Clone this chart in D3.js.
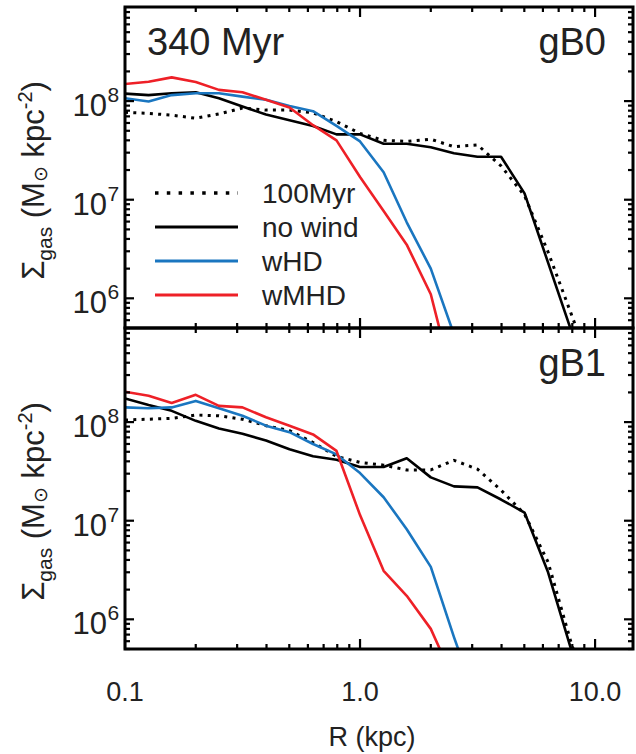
<!DOCTYPE html>
<html>
<head>
<meta charset="utf-8">
<script src="https://cdn.jsdelivr.net/npm/d3@7/dist/d3.min.js"></script>
<style>
  html, body { margin: 0; padding: 0; background: #fff; }
  svg { display: block; }
  text { font-family: "Liberation Sans", Arial, Helvetica, sans-serif; fill: #222; }
</style>
</head>
<body>
<svg id="chart" width="636" height="754"></svg>
<script>
// Radial bins (kpc), 0.1 dex apart
const radius = [0.1, 0.126, 0.158, 0.2, 0.251, 0.316, 0.398, 0.501, 0.631, 0.794,
                1.0, 1.26, 1.58, 2.0, 2.51, 3.16, 3.98, 5.01, 6.31, 7.94, 10.0];

// Gas surface density profiles, Msun kpc^-2 — model gB0
const gB0_100Myr = [7.7e7, 7.5e7, 7.2e7, 6.7e7, 7.4e7, 8.5e7, 8.1e7, 8.1e7, 7.6e7, 6.2e7,
                    4.7e7, 4.0e7, 3.9e7, 4.1e7, 3.45e7, 3.6e7, 2.2e7, 1.1e7, 2.95e6, 6.8e5, 1.55e5];
const gB0_noWind = [1.19e8, 1.15e8, 1.2e8, 1.23e8, 1.07e8, 8.8e7, 7.3e7, 6.4e7, 5.6e7, 4.6e7,
                    4.6e7, 3.7e7, 3.7e7, 3.4e7, 2.96e7, 2.73e7, 2.73e7, 1.16e7, 2.3e6, 4.6e5];
const gB0_wHD     = [1.07e8, 9.9e7, 1.15e8, 1.2e8, 1.2e8, 1.11e8, 1.03e8, 8.9e7, 7.9e7, 5.6e7,
                    3.9e7, 1.9e7, 5.9e6, 2.0e6, 4.3e5];
const gB0_wMHD    = [1.49e8, 1.57e8, 1.74e8, 1.56e8, 1.30e8, 1.23e8, 1.03e8, 8.6e7, 5.7e7, 4.0e7,
                    1.7e7, 7.7e6, 3.5e6, 1.1e6, 1.3e5];

// Gas surface density profiles, Msun kpc^-2 — model gB1
const gB1_100Myr = [1.05e8, 1.07e8, 1.09e8, 1.18e8, 1.16e8, 1.07e8, 9.2e7, 8.2e7, 6.2e7, 4.5e7,
                    3.9e7, 3.66e7, 3.27e7, 3.27e7, 4.1e7, 3.33e7, 2.04e7, 1.17e7, 3.8e6, 5.6e5, 1.2e5];
const gB1_noWind = [1.74e8, 1.49e8, 1.30e8, 1.03e8, 8.6e7, 7.6e7, 6.5e7, 5.3e7, 4.5e7, 4.15e7,
                    3.5e7, 3.5e7, 4.3e7, 2.75e7, 2.23e7, 2.18e7, 1.64e7, 1.21e7, 3.0e6, 4.8e5];
const gB1_wHD     = [1.41e8, 1.38e8, 1.41e8, 1.64e8, 1.38e8, 1.16e8, 9.2e7, 7.9e7, 6.0e7, 4.7e7,
                    3.04e7, 1.73e7, 8.2e6, 3.4e6, 6.6e5, 1.4e5];
const gB1_wMHD    = [2.03e8, 1.85e8, 1.56e8, 1.89e8, 1.46e8, 1.41e8, 1.12e8, 9.2e7, 7.5e7, 5.1e7,
                    1.14e7, 3.1e6, 1.73e6, 8.0e5, 2.4e5];

const seriesNames = ["100Myr", "no wind", "wHD", "wMHD"];
const seriesColors = ["#000000", "#000000", "#1a76c0", "#ee2027"];
const panelNames = ["gB0", "gB1"];
const timeLabel = "340 Myr";

const xMajor = [0.1, 1, 10];
const xMajorLabels = ["0.1", "1.0", "10.0"];
const xMinor = [0.2, 0.3, 0.4, 0.5, 0.6, 0.7, 0.8, 0.9, 2, 3, 4, 5, 6, 7, 8, 9];
const yMajor = [1e6, 1e7, 1e8];
const yMajorExp = ["6", "7", "8"];
const yMinor = [5e5, 6e5, 7e5, 8e5, 9e5, 2e6, 3e6, 4e6, 5e6, 6e6, 7e6, 8e6, 9e6,
                2e7, 3e7, 4e7, 5e7, 6e7, 7e7, 8e7, 9e7, 2e8, 3e8, 4e8, 5e8, 6e8, 7e8, 8e8];

const panelData = [
  [gB0_100Myr, gB0_noWind, gB0_wHD, gB0_wMHD],
  [gB1_100Myr, gB1_noWind, gB1_wHD, gB1_wMHD]
];

const svg = d3.select("#chart");
const left = 125, right = 633;
const panels = [{ top: 7, bottom: 328 }, { top: 328, bottom: 649 }];

const x = d3.scaleLog().domain([0.1, 14.5]).range([left, right]);

panels.forEach((p, pi) => {
  const y = d3.scaleLog().domain([5e5, 9e8]).range([p.bottom, p.top]);
  const g = svg.append("g");

  const clipId = "clip" + pi;
  svg.append("clipPath").attr("id", clipId)
    .append("rect").attr("x", left).attr("y", p.top)
    .attr("width", right - left).attr("height", p.bottom - p.top);

  const line = d3.line()
    .defined(d => d[1] != null)
    .x(d => x(d[0]))
    .y(d => y(d[1]));

  const lines = g.append("g").attr("clip-path", `url(#${clipId})`);
  panelData[pi].forEach((vals, si) => {
    const pts = vals.map((v, i) => [radius[i], v]);
    const path = lines.append("path")
      .attr("d", line(pts))
      .attr("fill", "none")
      .attr("stroke", seriesColors[si])
      .attr("stroke-width", 2.6)
      .attr("stroke-linejoin", "round");
    if (si === 0) path.attr("stroke-width", 3).attr("stroke-dasharray", "3,5.3");
  });

  // ticks on all four sides, pointing inward
  const tk = g.append("g").attr("stroke", "#000").attr("stroke-width", 2.2);
  xMajor.concat(xMinor).forEach(v => {
    const len = xMajor.includes(v) ? 10 : 5;
    const xv = x(v);
    tk.append("line").attr("x1", xv).attr("x2", xv).attr("y1", p.bottom).attr("y2", p.bottom - len);
    tk.append("line").attr("x1", xv).attr("x2", xv).attr("y1", p.top).attr("y2", p.top + len);
  });
  yMajor.concat(yMinor).forEach(v => {
    const len = yMajor.includes(v) ? 9 : 5;
    const yv = y(v);
    tk.append("line").attr("x1", left).attr("x2", left + len).attr("y1", yv).attr("y2", yv);
    tk.append("line").attr("x1", right).attr("x2", right - len).attr("y1", yv).attr("y2", yv);
  });

  // frame
  g.append("rect").attr("x", left).attr("y", p.top)
    .attr("width", right - left).attr("height", p.bottom - p.top)
    .attr("fill", "none").attr("stroke", "#000").attr("stroke-width", 3);

  // y tick labels 10^n
  yMajor.forEach((v, i) => {
    const yv = y(v);
    g.append("text").attr("x", 107).attr("y", yv + 15)
      .attr("text-anchor", "end").attr("font-size", 31).text("10");
    g.append("text").attr("x", 107.5).attr("y", yv + 1)
      .attr("font-size", 21).text(yMajorExp[i]);
  });

  // y axis title
  const cy = (p.top + p.bottom) / 2 + 13;
  const t = g.append("text")
    .attr("transform", `translate(44,${cy}) rotate(-90)`)
    .attr("text-anchor", "middle").attr("font-size", 31);
  t.append("tspan").text("Σ");
  t.append("tspan").attr("font-size", 21).attr("dy", 8).text("gas");
  t.append("tspan").attr("dy", -8).text(" (M");
  t.append("tspan").attr("font-size", 19).attr("dy", 3)
    .style("font-family", "'DejaVu Sans', sans-serif").text("⊙");
  t.append("tspan").attr("dy", -3).text(" kpc");
  t.append("tspan").attr("font-size", 20).attr("dy", -12).text("-2");
  t.append("tspan").attr("dy", 12).text(")");

  // panel name
  g.append("text").attr("x", 606).attr("y", p.top + 48)
    .attr("text-anchor", "end").attr("font-size", 38).text(panelNames[pi]);
  if (pi === 0) {
    g.append("text").attr("x", 147).attr("y", p.top + 48)
      .attr("font-size", 38).text(timeLabel);

    // legend
    const lg = g.append("g");
    seriesNames.forEach((name, si) => {
      const ly = 193 + si * 34;
      const ln = lg.append("line").attr("x1", 155).attr("x2", 238)
        .attr("y1", ly).attr("y2", ly)
        .attr("stroke", seriesColors[si]).attr("stroke-width", 3);
      if (si === 0) ln.attr("stroke-dasharray", "3.5,8.3").attr("stroke-width", 3.5);
      lg.append("text").attr("x", 262).attr("y", ly + 10)
        .attr("font-size", 28).text(name);
    });
  }
});

// x tick labels and title
xMajor.forEach((v, i) => {
  svg.append("text").attr("x", x(v)).attr("y", 701)
    .attr("text-anchor", "middle").attr("font-size", 27).text(xMajorLabels[i]);
});
svg.append("text").attr("x", 372).attr("y", 746)
  .attr("text-anchor", "middle").attr("font-size", 27).text("R (kpc)");
</script>
</body>
</html>
